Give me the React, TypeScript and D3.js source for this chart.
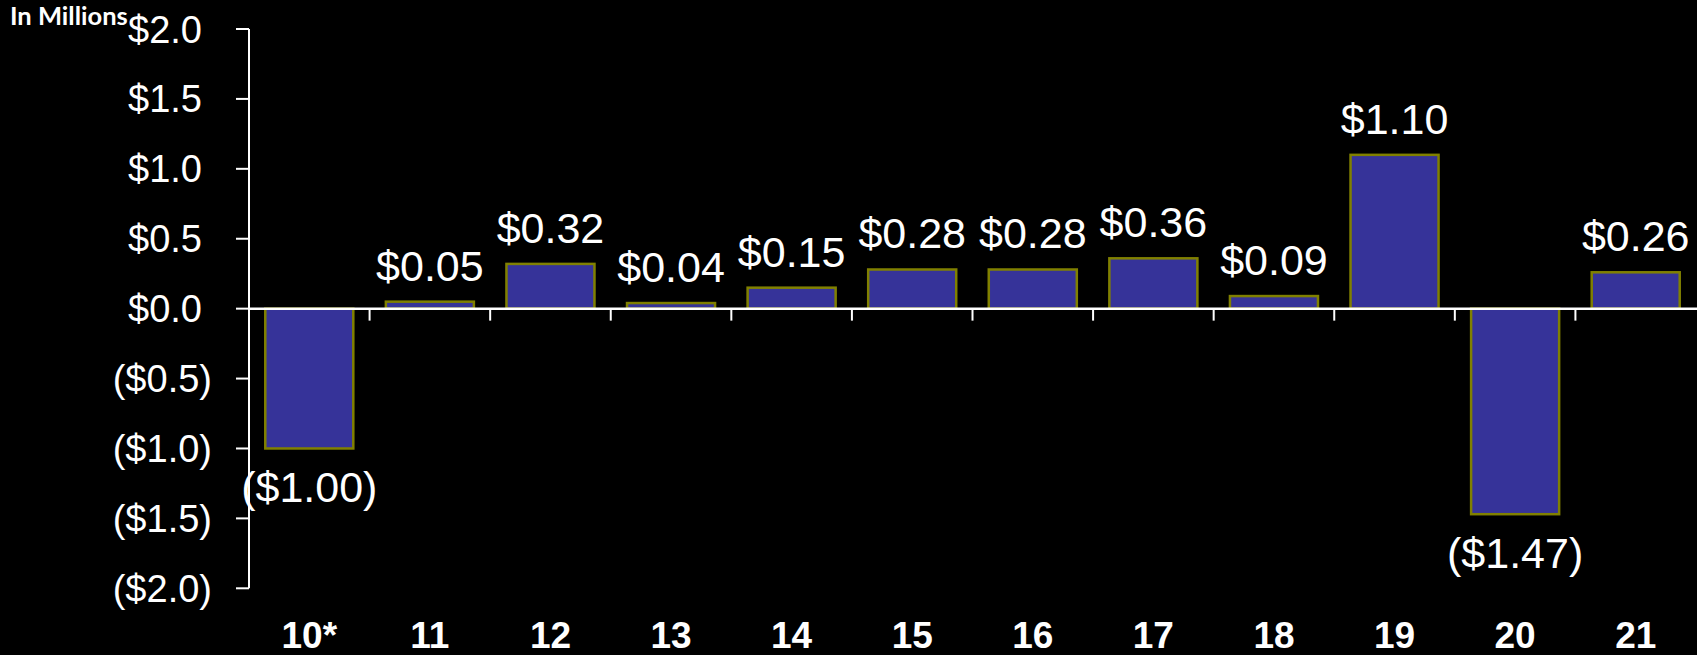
import React from "react";
import * as d3 from "d3";

const categories = ["10*", "11", "12", "13", "14", "15", "16", "17", "18", "19", "20", "21"];
const values = [-1.0, 0.05, 0.32, 0.04, 0.15, 0.28, 0.28, 0.36, 0.09, 1.1, -1.47, 0.26];
const yTicks = [2.0, 1.5, 1.0, 0.5, 0.0, -0.5, -1.0, -1.5, -2.0];
const unitLabel = "In Millions";

const W = 1697;
const H = 655;
const X0 = 249;
const X1 = 1696;
const Y_TOP = 29;
const Y_BOT = 588.3;

const fmtTick = (v: number) => (v < 0 ? `($${Math.abs(v).toFixed(1)})` : `$${v.toFixed(1)}`);
const fmtVal = (v: number) => (v < 0 ? `($${Math.abs(v).toFixed(2)})` : `$${v.toFixed(2)}`);

export default function App() {
  const x = d3.scaleBand<string>().domain(categories).range([X0, X1]).paddingInner(0.27).paddingOuter(0.135);
  const xb = d3.scaleBand<string>().domain(categories).range([X0, X1]);
  const y = d3.scaleLinear().domain([-2, 2]).range([Y_BOT, Y_TOP]);
  const y0 = y(0);
  const font = "'Liberation Sans', Arial, sans-serif";

  return (
    <div style={{ position: "fixed", left: 0, top: 0, width: W, height: H, background: "#000", overflow: "hidden" }}>
      <svg width={W} height={H} style={{ display: "block" }}>
        <rect x={0} y={0} width={W} height={H} fill="#000" />
        {categories.map((c, i) => {
          const v = values[i];
          const top = Math.min(y(v), y0);
          const h = Math.abs(y(v) - y0);
          return (
            <rect key={c} x={x(c)} y={top} width={x.bandwidth()} height={h} fill="#363399" stroke="#808000" strokeWidth={2.5} />
          );
        })}
        <line x1={X0} x2={X0} y1={Y_TOP} y2={Y_BOT} stroke="#fff" strokeWidth={2} />
        {yTicks.map((t) => (
          <g key={t}>
            <line x1={X0 - 13} x2={X0} y1={y(t)} y2={y(t)} stroke="#fff" strokeWidth={2} />
            <text x={t < 0 ? 212 : 202} y={y(t) + 13.5} textAnchor="end" fill="#fff" fontFamily={font} fontSize={38}>
              {fmtTick(t)}
            </text>
          </g>
        ))}
        <line x1={X0} x2={W} y1={y0} y2={y0} stroke="#fff" strokeWidth={2.5} />
        {categories.slice(1).map((c) => (
          <line key={c} x1={xb(c)} x2={xb(c)} y1={y0} y2={y0 + 12} stroke="#fff" strokeWidth={2} />
        ))}
        {categories.map((c, i) => {
          const v = values[i];
          const cx = (xb(c) as number) + xb.bandwidth() / 2;
          const ty = v >= 0 ? y(v) - 21 : y(v) + 54;
          return (
            <text key={c} x={cx} y={ty} textAnchor="middle" fill="#fff" fontFamily={font} fontSize={43}>
              {fmtVal(v)}
            </text>
          );
        })}
        {categories.map((c) => (
          <text
            key={c}
            x={(xb(c) as number) + xb.bandwidth() / 2}
            y={648}
            textAnchor="middle"
            fill="#fff"
            fontFamily={font}
            fontWeight="bold"
            fontSize={37}
          >
            {c}
          </text>
        ))}
        <text x={10} y={25} fill="#fff" fontFamily="Lato, 'Open Sans', sans-serif" fontWeight="bold" fontSize={25.5}>
          {unitLabel}
        </text>
      </svg>
    </div>
  );
}
